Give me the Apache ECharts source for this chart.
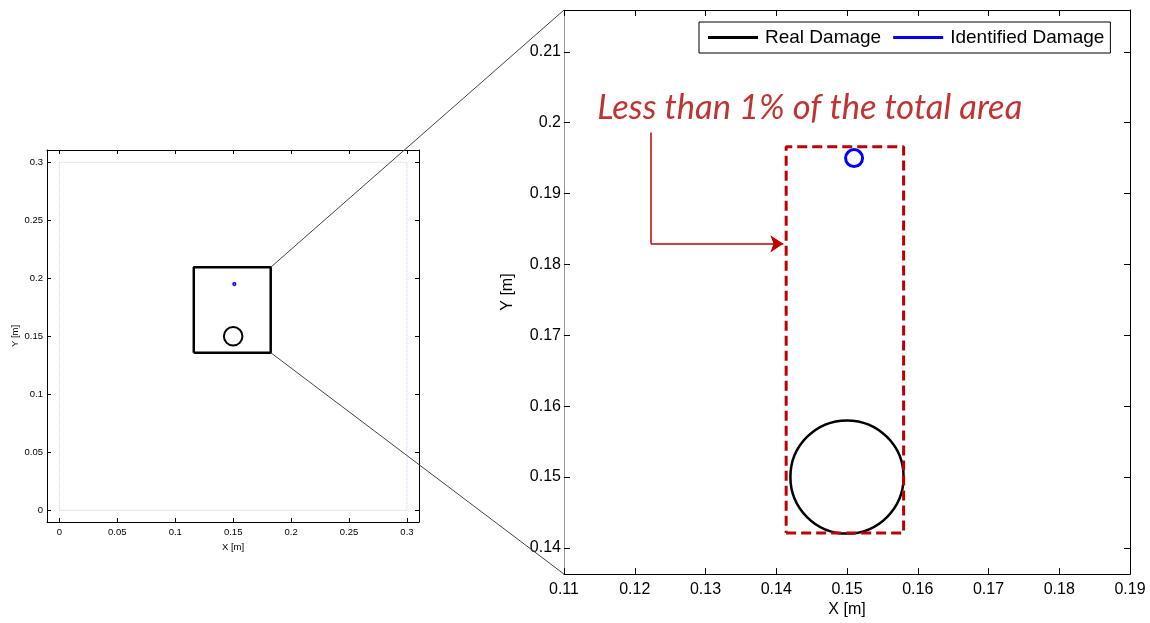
<!DOCTYPE html>
<html>
<head>
<meta charset="utf-8">
<script src="https://cdn.jsdelivr.net/npm/echarts@6/dist/echarts.min.js"></script>
<style>
html,body{margin:0;padding:0;background:#fff;}
#chart{width:1150px;height:623px;}
</style>
</head>
<body>
<div id="chart"></div>
<script>
// ---- data ----
const leftTicks = [0, 0.05, 0.1, 0.15, 0.2, 0.25, 0.3];
const rightXTicks = [0.11, 0.12, 0.13, 0.14, 0.15, 0.16, 0.17, 0.18, 0.19];
const rightYTicks = [0.14, 0.15, 0.16, 0.17, 0.18, 0.19, 0.2, 0.21];
const leftXRange = [-0.0107, 0.3104];
const leftYRange = [-0.0101, 0.3106];
const rightXRange = [0.11, 0.19];
const rightYRange = [0.1363, 0.2159];
const plateX = [0, 0.3, 0.3, 0, 0];
const plateY = [0, 0, 0.3, 0.3, 0];
const zoomBoxX = [0.116, 0.1824, 0.1824, 0.116, 0.116];
const zoomBoxY = [0.1359, 0.1359, 0.2095, 0.2095, 0.1359];
const realDamage = [0.15, 0.15, 0.008];        // centre x, centre y, radius
const identifiedDamage = [0.151, 0.195, 0.0012];
const regionX = [0.1414, 0.158, 0.158, 0.1414, 0.1414];
const regionY = [0.1421, 0.1421, 0.1966, 0.1966, 0.1421];
const arrowX = [0.1223, 0.1223, 0.141];
const arrowY = [0.1986, 0.1829, 0.1829];
const noteText = 'Less than 1% of the total area';
const notePos = [0.1147, 0.2021];
const legendNames = ['Real Damage', 'Identified Damage'];

const FONT = '"Liberation Sans", Arial, Helvetica, sans-serif';
const RED = '#c00000';
const zip = (a, b) => a.map((v, i) => [v, b[i]]);
const fmt = v => String(+(+v).toFixed(4));

function mkAxis(gridIndex, position, range, ticks, o) {
  const showLabel = o.label;
  return {
    type: 'value', gridIndex, position, min: range[0], max: range[1],
    axisLine: { show: true, onZero: false, lineStyle: { color: o.lineColor || '#000', width: 1 } },
    axisTick: { show: true, inside: true, length: o.tickLen, customValues: ticks, lineStyle: { color: '#000', width: 1 } },
    axisLabel: { show: showLabel, customValues: ticks, formatter: fmt, fontSize: o.fontSize, margin: o.margin, color: '#000', fontFamily: FONT },
    splitLine: { show: false },
    name: showLabel ? o.name : '',
    nameLocation: 'middle', nameGap: o.nameGap,
    nameTextStyle: { fontSize: o.fontSize, color: '#000', fontFamily: FONT }
  };
}

function circleItem(lineWidth) {
  return function (params, api) {
    const c = api.coord([api.value(0), api.value(1)]);
    const s = api.size([api.value(2), api.value(2)], [api.value(0), api.value(1)]);
    return {
      type: 'circle',
      shape: { cx: c[0], cy: c[1], r: s[0] },
      style: { fill: 'none', stroke: api.visual('color'), lineWidth }
    };
  };
}

const chart = echarts.init(document.getElementById('chart'), null, { renderer: 'canvas' });

const option = {
  animation: false,
  backgroundColor: '#fff',
  grid: [
    { left: 47, top: 150, width: 372, height: 372 },
    { left: 564, top: 10, width: 566, height: 565 }
  ],
  xAxis: [
    mkAxis(0, 'bottom', leftXRange, leftTicks, { label: true, tickLen: 4, fontSize: 9.5, margin: 5, name: 'X [m]', nameGap: 15 }),
    mkAxis(0, 'top', leftXRange, leftTicks, { label: false, tickLen: 4, fontSize: 9.5 }),
    mkAxis(1, 'bottom', rightXRange, rightXTicks, { label: true, tickLen: 6, fontSize: 16, margin: 7, name: 'X [m]', nameGap: 27 }),
    mkAxis(1, 'top', rightXRange, rightXTicks, { label: false, tickLen: 6, fontSize: 16 })
  ],
  yAxis: [
    mkAxis(0, 'left', leftYRange, leftTicks, { label: true, tickLen: 4, fontSize: 9.5, margin: 4, name: 'Y [m]', nameGap: 27 }),
    mkAxis(0, 'right', leftYRange, leftTicks, { label: false, tickLen: 4, fontSize: 9.5 }),
    mkAxis(1, 'left', rightYRange, rightYTicks, { label: true, tickLen: 6, fontSize: 16, margin: 3, name: 'Y [m]', nameGap: 48, lineColor: '#999' }),
    mkAxis(1, 'right', rightYRange, rightYTicks, { label: false, tickLen: 6, fontSize: 16 })
  ],
  legend: {
    left: 699, top: 22,
    padding: [6, 6, 6, 9],
    itemGap: 12, itemWidth: 50, itemHeight: 3,
    borderColor: '#000', borderWidth: 1, backgroundColor: '#fff',
    selectedMode: false,
    textStyle: { fontSize: 19, fontFamily: FONT, color: '#000', padding: [0, 0, 0, 2] },
    data: [
      { name: legendNames[0], icon: 'rect', itemStyle: { color: '#000' } },
      { name: legendNames[1], icon: 'rect', itemStyle: { color: '#0000ff' } }
    ]
  },
  series: [
    { type: 'line', name: 'plate', xAxisIndex: 0, yAxisIndex: 0, data: zip(plateX, plateY), symbol: 'none', silent: true,
      lineStyle: { color: '#c8c8f2', width: 1, type: 'dotted' } },
    { type: 'line', name: 'zoom', xAxisIndex: 0, yAxisIndex: 0, data: zip(zoomBoxX, zoomBoxY), symbol: 'none', silent: true,
      lineStyle: { color: '#000', width: 2.5 } },
    { type: 'custom', name: legendNames[0], xAxisIndex: 0, yAxisIndex: 0, data: [realDamage], itemStyle: { color: '#000' },
      renderItem: circleItem(2), silent: true },
    { type: 'custom', name: legendNames[1], xAxisIndex: 0, yAxisIndex: 0, data: [identifiedDamage], itemStyle: { color: '#0000ff' },
      renderItem: circleItem(1.5), silent: true },
    { type: 'custom', name: legendNames[0], xAxisIndex: 2, yAxisIndex: 2, data: [realDamage], itemStyle: { color: '#000' },
      renderItem: circleItem(2.5), silent: true },
    { type: 'custom', name: legendNames[1], xAxisIndex: 2, yAxisIndex: 2, data: [identifiedDamage], itemStyle: { color: '#0000ff' },
      renderItem: circleItem(3), silent: true },
    { type: 'line', name: 'region', xAxisIndex: 2, yAxisIndex: 2, data: zip(regionX, regionY), symbol: 'none', silent: true,
      lineStyle: { color: RED, width: 3, type: [10, 5] } },
    { type: 'lines', name: 'arrowStem', coordinateSystem: 'cartesian2d', xAxisIndex: 2, yAxisIndex: 2, silent: true,
      symbol: ['none', 'none'],
      lineStyle: { color: RED, width: 1.5, opacity: 1 },
      data: [{ coords: [[arrowX[0], arrowY[0]], [arrowX[1], arrowY[1]]] }] },
    { type: 'lines', name: 'arrowHead', coordinateSystem: 'cartesian2d', xAxisIndex: 2, yAxisIndex: 2, silent: true,
      symbol: ['none', 'arrow'], symbolSize: 13,
      lineStyle: { color: RED, width: 1.5, opacity: 1 },
      data: [{ coords: [[arrowX[1], arrowY[1]], [arrowX[2], arrowY[2]]] }] },
    { type: 'scatter', name: 'note', xAxisIndex: 2, yAxisIndex: 2, data: [notePos], symbolSize: 0, silent: true,
      label: { show: true, position: 'right', distance: 0, formatter: noteText, color: '#b00000',
        fontSize: 34.5, fontStyle: 'italic', fontFamily: 'Lato, "Open Sans", sans-serif' } }
  ]
};
chart.setOption(option);

// connecting zoom lines, positioned through the axes' scales
const a1 = chart.convertToPixel({ xAxisIndex: 0, yAxisIndex: 0 }, [zoomBoxX[1], zoomBoxY[2]]);
const b1 = chart.convertToPixel({ xAxisIndex: 2, yAxisIndex: 2 }, [rightXRange[0], rightYRange[1]]);
const a2 = chart.convertToPixel({ xAxisIndex: 0, yAxisIndex: 0 }, [zoomBoxX[1], zoomBoxY[0]]);
const b2 = chart.convertToPixel({ xAxisIndex: 2, yAxisIndex: 2 }, [rightXRange[0], rightYRange[0]]);
chart.setOption({
  graphic: [
    { type: 'line', silent: true, z: 100, shape: { x1: a1[0], y1: a1[1], x2: b1[0], y2: b1[1] }, style: { stroke: '#444', lineWidth: 1 } },
    { type: 'line', silent: true, z: 100, shape: { x1: a2[0], y1: a2[1], x2: b2[0], y2: b2[1] }, style: { stroke: '#444', lineWidth: 1 } }
  ]
});
</script>
</body>
</html>
